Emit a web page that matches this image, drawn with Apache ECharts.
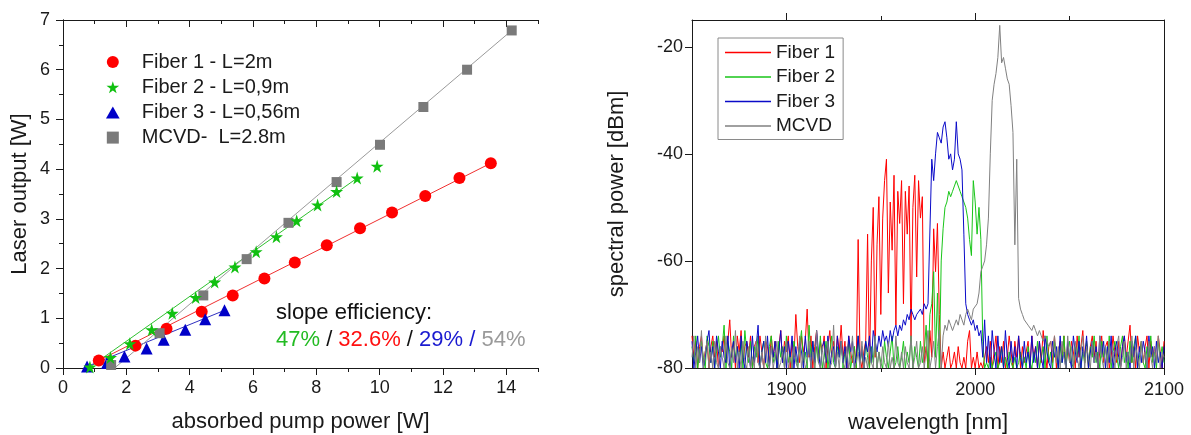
<!DOCTYPE html>
<html><head><meta charset="utf-8">
<script src="https://cdn.jsdelivr.net/npm/echarts@6/dist/echarts.min.js"></script>
<style>html,body{margin:0;padding:0;background:#fff}#c{width:1191px;height:435px}</style>
</head><body><div id="c"></div>
<script>
const FONT = '"Liberation Sans", Arial, sans-serif';

// ---------- Left chart: laser output vs absorbed pump power ----------
const fiber1X = [1.13,2.29,3.27,4.38,5.36,6.36,7.32,8.33,9.38,10.39,11.44,12.52,13.51];
const fiber1Y = [0.15,0.45,0.79,1.13,1.46,1.80,2.12,2.47,2.81,3.13,3.46,3.82,4.12];
const fiber2X = [0.85,1.50,2.11,2.80,3.45,4.19,4.79,5.43,6.10,6.74,7.38,8.04,8.64,9.29,9.92];
const fiber2Y = [0.02,0.21,0.49,0.77,1.10,1.42,1.73,2.03,2.34,2.64,2.96,3.28,3.55,3.82,4.06];
const fiber3X = [0.76,1.39,1.94,2.64,3.18,3.86,4.49,5.10];
const fiber3Y = [0.03,0.10,0.23,0.39,0.57,0.77,0.98,1.16];
const mcvdX = [1.52,3.05,4.43,5.80,7.12,8.64,10.01,11.38,12.76,14.17];
const mcvdY = [0.06,0.70,1.46,2.19,2.92,3.74,4.49,5.25,6.00,6.79];
// linear fit lines (end points)
const fit1X = [1.13,13.51], fit1Y = [0.15,4.12];
const fit2X = [0.85,9.29],  fit2Y = [0.02,3.82];
const fit3X = [0.76,5.10],  fit3Y = [0.03,1.16];
const fit4X = [1.63,14.17], fit4Y = [0.00,6.79];
const leftNames = ['Fiber 1 - L=2m','Fiber 2 - L=0,9m','Fiber 3 - L=0,56m','MCVD-  L=2.8m'];
const leftXTicks = [0,2,4,6,8,10,12,14];
const leftXMinor = [1,3,5,7,9,11,13,15];

// ---------- Right chart: spectra (1 nm steps from 1850 nm) ----------
const WL_START = 1850, WL_STEP = 1;
const spec1 = [
-74,-78,-75,-80,-76,-74,-79,-77,-75,-80,
-76,-74,-78,-75,-80,-76,-77,-74,-79,-75,
-71,-78,-75,-80,-74,-77,-73,-79,-76,-75,
-78,-74,-80,-76,-75,-79,-74,-77,-80,-75,
-76,-79,-74,-78,-75,-80,-76,-73,-79,-75,
-77,-74,-80,-75,-78,-70,-76,-79,-74,-77,
-75,-69,-78,-74,-80,-76,-73,-79,-75,-77,
-74,-80,-76,-73,-78,-75,-79,-74,-77,-72,
-78,-75,-80,-74,-77,-79,-76,-80,-56,-78,
-80,-77,-75,-55,-80,-60,-50,-78,-57,-48,
-70,-52,-45,-41,-66,-49,-58,-44,-72,-47,
-53,-45,-68,-47,-55,-46,-75,-50,-44,-63,
-45,-52,-48,-79,-76,-80,-73,-78,-54,-62,
-53,-70,-80,-77,-80,-78,-76,-80,-79,-77,
-80,-76,-79,-80,-78,-80,-75,-73,-80,-78,
-80,-77,-80,-79,-80,-80,-76,-79,-75,-80,
-77,-74,-80,-76,-79,-75,-80,-78,-74,-77,
-80,-75,-78,-74,-80,-76,-79,-77,-75,-80,
-74,-78,-76,-80,-75,-79,-73,-77,-80,-76,
-75,-79,-74,-80,-77,-75,-78,-74,-80,-76,
-79,-75,-77,-80,-74,-78,-76,-73,-79,-75,
-80,-76,-74,-78,-75,-80,-77,-74,-79,-76,
-75,-80,-78,-74,-77,-79,-75,-80,-76,-74,
-78,-75,-72,-79,-76,-80,-74,-77,-75,-79,
-76,-74,-80,-75,-78,-76,-79,-74,-77,-80,
-75];
const spec2 = [
-76,-79,-74,-80,-77,-75,-78,-80,-74,-76,
-79,-75,-80,-77,-74,-78,-76,-72,-80,-75,
-77,-80,-74,-78,-76,-79,-75,-80,-73,-77,
-79,-75,-80,-76,-78,-74,-80,-77,-75,-79,
-80,-76,-74,-79,-77,-80,-75,-78,-76,-80,
-74,-79,-77,-80,-75,-78,-80,-76,-73,-79,
-77,-80,-72,-78,-75,-80,-76,-79,-74,-80,
-78,-75,-80,-77,-74,-79,-80,-76,-78,-75,
-80,-77,-79,-75,-80,-78,-76,-80,-74,-79,
-77,-80,-75,-78,-80,-76,-79,-74,-80,-77,
-79,-80,-75,-78,-80,-77,-74,-80,-79,-76,
-80,-78,-75,-80,-77,-79,-74,-80,-76,-78,
-80,-75,-79,-77,-72,-80,-70,-68,-62,-78,
-66,-80,-60,-54,-50,-49,-47,-48,-47,-46,
-45,-46,-47,-48,-48,-50,-52,-56,-59,-45,
-49,-55,-50,-56,-75,-80,-79,-80,-78,-80,
-80,-77,-80,-79,-76,-80,-78,-80,-77,-79,
-80,-78,-80,-79,-77,-80,-78,-80,-76,-79,
-80,-77,-79,-75,-80,-78,-76,-80,-74,-79,
-77,-80,-75,-78,-80,-76,-79,-74,-80,-77,
-75,-79,-80,-76,-78,-74,-80,-77,-79,-75,
-80,-76,-78,-74,-79,-77,-80,-75,-78,-76,
-79,-74,-80,-77,-75,-78,-80,-76,-74,-79,
-77,-80,-75,-79,-76,-74,-80,-78,-75,-79,
-80,-76,-78,-74,-79,-77,-80,-75,-78,-76,
-79];
const spec3 = [
-75,-80,-77,-74,-79,-76,-80,-78,-75,-73,
-79,-76,-80,-74,-77,-80,-75,-78,-79,-74,
-80,-77,-75,-79,-76,-80,-74,-78,-80,-75,
-77,-80,-74,-79,-76,-72,-80,-77,-75,-79,
-74,-80,-76,-78,-75,-80,-77,-73,-79,-76,
-80,-75,-78,-74,-80,-76,-79,-75,-77,-80,
-74,-78,-76,-80,-75,-79,-73,-77,-80,-76,
-75,-79,-74,-80,-77,-76,-80,-74,-78,-75,
-79,-76,-80,-74,-77,-75,-80,-78,-74,-79,
-76,-80,-75,-77,-74,-79,-73,-75,-77,-74,
-76,-73,-75,-74,-76,-73,-75,-73,-72,-74,
-72,-73,-71,-72,-70,-71,-69,-70,-71,-70,
-70,-69,-70,-68,-69,-68,-68,-41,-45,-40,
-36,-37,-38,-35,-34,-37,-41,-40,-43,-41,
-34,-40,-41,-43,-55,-68,-70,-71,-72,-71,
-73,-72,-74,-73,-78,-71,-79,-74,-80,-73,
-77,-80,-74,-79,-76,-80,-73,-78,-80,-75,
-79,-76,-80,-74,-78,-80,-75,-79,-77,-80,
-74,-79,-76,-80,-75,-78,-80,-74,-77,-79,
-80,-75,-78,-76,-80,-74,-79,-77,-80,-75,
-78,-80,-74,-77,-79,-75,-80,-76,-78,-74,
-80,-77,-75,-79,-76,-80,-74,-78,-75,-80,
-76,-79,-74,-80,-77,-75,-78,-80,-76,-74,
-79,-77,-80,-75,-78,-74,-80,-76,-79,-75,
-77,-80,-74,-78,-76,-80,-75,-79,-77,-80,
-76];
const spec4 = [
-78,-74,-80,-76,-79,-73,-80,-77,-75,-80,
-77,-80,-75,-79,-80,-76,-78,-80,-74,-79,
-80,-76,-79,-73,-80,-77,-80,-75,-79,-80,
-76,-80,-78,-80,-75,-79,-80,-77,-80,-74,
-79,-80,-76,-80,-78,-75,-80,-79,-77,-80,
-75,-80,-78,-80,-76,-79,-80,-74,-80,-77,
-80,-79,-75,-80,-77,-80,-73,-79,-80,-76,
-80,-78,-75,-80,-79,-72,-80,-77,-80,-75,
-79,-80,-76,-80,-78,-74,-80,-79,-77,-80,
-75,-80,-78,-80,-76,-79,-80,-74,-80,-77,
-80,-76,-79,-80,-75,-80,-78,-80,-74,-79,
-80,-77,-80,-76,-79,-80,-74,-80,-78,-75,
-80,-79,-76,-80,-77,-73,-80,-78,-75,-80,
-76,-73,-80,-74,-72,-73,-71,-72,-73,-72,
-71,-72,-70,-71,-72,-70,-69,-70,-71,-69,
-69,-68,-66,-62,-61,-60,-57,-52,-40,-30,
-27,-25,-22,-16,-23,-22,-24,-26,-27,-31,
-36,-57,-41,-67,-69,-70,-71,-71,-72,-72,
-73,-72,-73,-74,-73,-74,-75,-74,-75,-76,
-75,-77,-74,-79,-76,-80,-75,-78,-80,-74,
-79,-76,-80,-75,-78,-80,-77,-74,-80,-76,
-78,-80,-75,-79,-77,-80,-74,-78,-80,-76,
-80,-75,-79,-77,-80,-76,-74,-80,-78,-75,
-80,-77,-79,-74,-80,-76,-78,-80,-75,-79,
-77,-80,-75,-78,-80,-76,-79,-74,-80,-77,
-78];
const rightNames = ['Fiber 1','Fiber 2','Fiber 3','MCVD'];
const rightXLabels = [1900,2000,2100];
const rightXMinor = [1950,2050];
const rightYLabels = [-80,-60,-40,-20];

// ---------- colours ----------
const C = {red:'#ff0000', green:'#19c519', blue:'#0a0ac8', gray:'#808080'};
const fitC = {red:'#f03030', green:'#30c030', blue:'#3030c0', gray:'#9a9a9a'};
const STAR = 'path://M50,0 L61,35 L98,35 L68,57 L79,91 L50,70 L21,91 L32,57 L2,35 L39,35 Z';
const TRI = 'path://M50,0 L100,88 L0,88 Z';
const SQR = 'path://M0,0 L100,0 L100,100 L0,100 Z';

const zip = (xs, ys) => xs.map((x, i) => [x, ys[i]]);
const spec = arr => arr.map((v, i) => [WL_START + i * WL_STEP, v]);

const AX = {lineStyle:{color:'#1a1a1a', width:1}};
const LBL = {color:'#1a1a1a', fontSize:18, fontFamily:FONT, formatter: v => String(v)};
const NAME = {color:'#1a1a1a', fontSize:22, fontFamily:FONT};

function ovl(grid, pos, min, max, ticks, len, inside) {
  return {type:'value', gridIndex:grid, position:pos, min, max,
    axisLine:{show:false}, splitLine:{show:false}, axisLabel:{show:false},
    axisTick:{show:true, inside, length:len, customValues:ticks, lineStyle:{color:'#1a1a1a'}}};
}

const option = {
  animation:false,
  backgroundColor:'#fff',
  textStyle:{fontFamily:FONT},
  grid:[
    {left:63, top:20, width:475, height:348, outerBoundsMode:'none'},
    {left:692, top:20, width:472, height:348, outerBoundsMode:'none'}
  ],
  xAxis:[
    {type:'value', gridIndex:0, position:'bottom', min:0, max:15, interval:1,
     axisLine:AX, splitLine:{show:false},
     axisTick:{inside:false, length:7, customValues:leftXTicks, lineStyle:{color:'#1a1a1a'}},
     axisLabel:Object.assign({margin:11, customValues:leftXTicks}, LBL),
     name:'absorbed pump power [W]', nameLocation:'middle', nameGap:43, nameTextStyle:NAME},
    ovl(0,'bottom',0,15,leftXMinor,4,false),
    {type:'value', gridIndex:0, position:'top', min:0, max:15, interval:1,
     axisLine:AX, splitLine:{show:false}, axisLabel:{show:false},
     axisTick:{inside:true, length:7, customValues:leftXTicks, lineStyle:{color:'#1a1a1a'}}},
    ovl(0,'top',0,15,leftXMinor,4,true),
    {type:'value', gridIndex:1, position:'bottom', min:1850, max:2100, interval:50,
     axisLine:AX, splitLine:{show:false},
     axisTick:{inside:false, length:7, customValues:rightXLabels, lineStyle:{color:'#1a1a1a'}},
     axisLabel:Object.assign({margin:13, customValues:rightXLabels}, LBL),
     name:'wavelength [nm]', nameLocation:'middle', nameGap:44, nameTextStyle:NAME},
    ovl(1,'bottom',1850,2100,rightXMinor,4,false),
    {type:'value', gridIndex:1, position:'top', min:1850, max:2100, interval:50,
     axisLine:AX, splitLine:{show:false}, axisLabel:{show:false},
     axisTick:{inside:false, length:7, customValues:[1900,2000], lineStyle:{color:'#1a1a1a'}}},
    ovl(1,'top',1850,2100,rightXMinor,4,false)
  ],
  yAxis:[
    {type:'value', gridIndex:0, position:'left', min:0, max:7, interval:1,
     axisLine:AX, splitLine:{show:false},
     axisTick:{inside:false, length:7, lineStyle:{color:'#1a1a1a'}},
     minorTick:{show:true, splitNumber:2, length:4, lineStyle:{color:'#1a1a1a'}},
     axisLabel:Object.assign({margin:13}, LBL),
     name:'Laser output [W]', nameLocation:'middle', nameGap:32, nameTextStyle:NAME},
    {type:'value', gridIndex:0, position:'right', min:0, max:7, interval:1,
     axisLine:AX, splitLine:{show:false}, axisLabel:{show:false},
     axisTick:{inside:true, length:7, lineStyle:{color:'#1a1a1a'}},
     minorTick:{show:true, splitNumber:2, length:4, lineStyle:{color:'#1a1a1a'}}},
    {type:'value', gridIndex:1, position:'left', min:-80, max:-15, interval:20,
     axisLine:AX, splitLine:{show:false},
     axisTick:{inside:false, length:7, customValues:rightYLabels, lineStyle:{color:'#1a1a1a'}},
     axisLabel:Object.assign({margin:9, customValues:rightYLabels}, LBL),
     name:'spectral power [dBm]', nameLocation:'middle', nameGap:64, nameTextStyle:NAME},
    {type:'value', gridIndex:1, position:'right', min:-80, max:-15, interval:20,
     axisLine:AX, splitLine:{show:false}, axisLabel:{show:false}, axisTick:{show:false}}
  ],
  legend:[
    {data:leftNames, orient:'vertical', left:106, top:52, itemWidth:48, itemHeight:12,
     itemGap:5.2, padding:0, selectedMode:false,
     textStyle:{fontSize:20, fontFamily:FONT, color:'#1a1a1a', lineHeight:20}},
    {data:rightNames, orient:'vertical', left:718, top:38, itemWidth:46, itemHeight:1.6,
     icon:'rect', itemGap:5.5, padding:[5,8,4,7], selectedMode:false,
     borderColor:'#8a8a8a', borderWidth:1,
     textStyle:{fontSize:19, fontFamily:FONT, color:'#1a1a1a', lineHeight:19}}
  ],
  graphic:[
    {type:'text', left:276, top:302, silent:true,
     style:{text:'slope efficiency:', fontSize:22, fontFamily:FONT, fill:'#111'}},
    {type:'text', left:276, top:329, silent:true,
     style:{text:'{g|47%} {k|/} {r|32.6%} {k|/} {b|29% /} {s|54%}', fontSize:22, fontFamily:FONT,
       rich:{g:{fill:'#22bb22', fontSize:22, fontFamily:FONT},
             k:{fill:'#111', fontSize:22, fontFamily:FONT},
             r:{fill:'#ff1010', fontSize:22, fontFamily:FONT},
             b:{fill:'#1a1ad0', fontSize:22, fontFamily:FONT},
             s:{fill:'#9a9a9a', fontSize:22, fontFamily:FONT}}}}
  ],
  series:[
    // fit lines
    {type:'line', name:'fit1', xAxisIndex:0, yAxisIndex:0, data:zip(fit1X,fit1Y), symbol:'none', lineStyle:{color:fitC.red, width:1}, z:1},
    {type:'line', name:'fit2', xAxisIndex:0, yAxisIndex:0, data:zip(fit2X,fit2Y), symbol:'none', lineStyle:{color:fitC.green, width:1}, z:1},
    {type:'line', name:'fit3', xAxisIndex:0, yAxisIndex:0, data:zip(fit3X,fit3Y), symbol:'none', lineStyle:{color:fitC.blue, width:1}, z:1},
    {type:'line', name:'fit4', xAxisIndex:0, yAxisIndex:0, data:zip(fit4X,fit4Y), symbol:'none', lineStyle:{color:fitC.gray, width:1}, z:1},
    // measured points
    {type:'scatter', name:leftNames[0], xAxisIndex:0, yAxisIndex:0, data:zip(fiber1X,fiber1Y), symbol:'circle', symbolSize:12, itemStyle:{color:C.red, opacity:1}, z:3},
    {type:'scatter', name:leftNames[1], xAxisIndex:0, yAxisIndex:0, data:zip(fiber2X,fiber2Y), symbol:STAR, symbolSize:13, itemStyle:{color:'#10c010', opacity:1}, z:4},
    {type:'scatter', name:leftNames[2], xAxisIndex:0, yAxisIndex:0, data:zip(fiber3X,fiber3Y), symbol:TRI, symbolSize:12, itemStyle:{color:'#0000c8', opacity:1}, z:3},
    {type:'scatter', name:leftNames[3], xAxisIndex:0, yAxisIndex:0, data:zip(mcvdX,mcvdY), symbol:SQR, symbolSize:10, itemStyle:{color:'#7a7a7a', opacity:1}, z:3},
    // spectra
    {type:'line', name:rightNames[0], xAxisIndex:4, yAxisIndex:2, data:spec(spec1), symbol:'none', lineStyle:{color:C.red, width:1}, itemStyle:{color:C.red}, z:2},
    {type:'line', name:rightNames[1], xAxisIndex:4, yAxisIndex:2, data:spec(spec2), symbol:'none', lineStyle:{color:C.green, width:1}, itemStyle:{color:C.green}, z:2},
    {type:'line', name:rightNames[2], xAxisIndex:4, yAxisIndex:2, data:spec(spec3), symbol:'none', lineStyle:{color:C.blue, width:1}, itemStyle:{color:C.blue}, z:2},
    {type:'line', name:rightNames[3], xAxisIndex:4, yAxisIndex:2, data:spec(spec4), symbol:'none', lineStyle:{color:C.gray, width:1}, itemStyle:{color:C.gray}, z:2}
  ]
};

const chart = echarts.init(document.getElementById('c'), null, {renderer:'canvas'});
chart.setOption(option);
</script>
</body></html>
